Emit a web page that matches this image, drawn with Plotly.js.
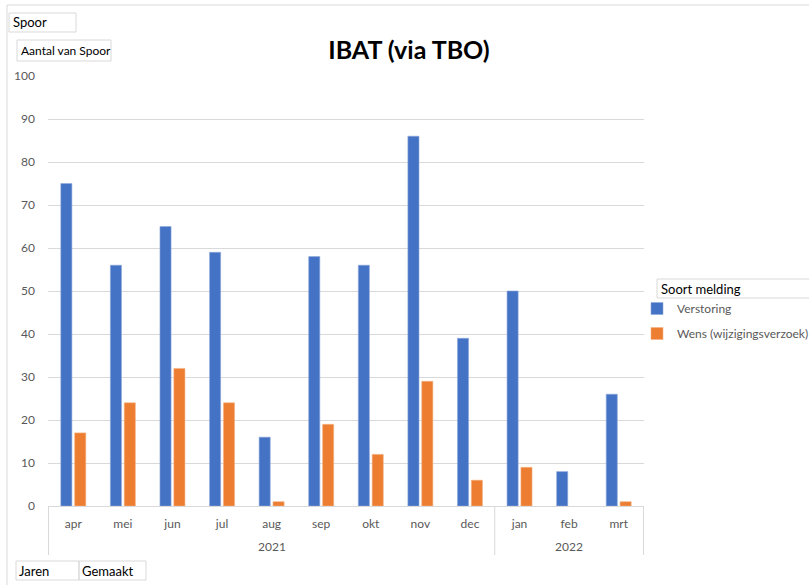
<!DOCTYPE html>
<html>
<head>
<meta charset="utf-8">
<script src="https://cdn.plot.ly/plotly-3.0.1.min.js"></script>
<style>html,body{margin:0;padding:0;background:#fff;}#chart{width:809px;height:585px;}</style>
</head>
<body>
<div id="chart"></div>
<script>
const years = ["2021","2021","2021","2021","2021","2021","2021","2021","2021","2022","2022","2022"];
const months = ["apr","mei","jun","jul","aug","sep","okt","nov","dec","jan","feb","mrt"];
const verstoring = [75,56,65,59,16,58,56,86,39,50,8,26];
const wens = [17,24,32,24,1,19,12,29,6,9,null,1];

const L = 48, R = 644, T = 76, B = 506, W = 809, H = 585;
const px = x => (x - L) / (R - L);
const py = y => (B - y) / (B - T);
const font = "Lato, 'Open Sans', sans-serif";
const grey = '#d9d9d9';

function box(x0, y0, x1, y1) {
  return {type:'rect', xref:'paper', yref:'paper', x0:px(x0), x1:px(x1), y0:py(y1), y1:py(y0),
    line:{color:grey, width:1}, fillcolor:'rgba(0,0,0,0)', layer:'above'};
}
function label(text, x, y, size) {
  return {text:text, xref:'paper', yref:'paper', x:px(x), y:py(y), xanchor:'left', yanchor:'middle',
    showarrow:false, font:{family:font, size:size, color:'#000'}};
}

// year groups derived from the years array
const groups = [];
years.forEach((yr, i) => {
  if (!groups.length || groups[groups.length-1].name !== yr) groups.push({name:yr, start:i, end:i});
  else groups[groups.length-1].end = i;
});
const dividerShapes = [];
const yearAnnotations = [];
groups.forEach((g, k) => {
  if (k === 0) dividerShapes.push({type:'line', xref:'x', yref:'paper', x0:g.start-0.5, x1:g.start-0.5, y0:0, y1:py(555), line:{color:grey, width:1}});
  dividerShapes.push({type:'line', xref:'x', yref:'paper', x0:g.end+0.5, x1:g.end+0.5, y0:0, y1:py(555), line:{color:grey, width:1}});
  yearAnnotations.push({text:g.name, xref:'x', yref:'paper', x:(g.start+g.end)/2, y:py(546), xanchor:'center', yanchor:'middle',
    showarrow:false, font:{family:font, size:12, color:'#595959'}});
});

const data = [
  {type:'bar', name:'Verstoring', x:months, y:verstoring, legendgroup:'a',
   marker:{color:'#4472c4', line:{color:'#8faadc', width:0.6}}},
  {type:'bar', name:'Wens (wijzigingsverzoek)', x:months, y:wens, legendgroup:'b',
   marker:{color:'#ed7d31', line:{color:'#f4b183', width:0.6}}}
];

const layout = {
  width:W, height:H,
  margin:{l:L, r:W-R, t:T, b:H-B, pad:0, autoexpand:false},
  paper_bgcolor:'#fff', plot_bgcolor:'#fff',
  font:{family:font, size:12, color:'#595959'},
  barmode:'group', bargap:0.44, bargroupgap:0.2,
  title:{text:'<b>IBAT (via TBO)</b>', font:{family:font, size:25, color:'#000'},
    xref:'container', yref:'container', x:409/W, y:1-50/H, xanchor:'center', yanchor:'middle'},
  xaxis:{type:'category', showgrid:false, showline:true, linecolor:grey, linewidth:1,
    ticks:'', ticklabelstandoff:7, automargin:false,
    tickfont:{family:font, size:12, color:'#595959'}},
  yaxis:{range:[0,100], dtick:10, showgrid:true, gridcolor:grey, gridwidth:1,
    zeroline:false, showline:false, ticks:'', ticklabelstandoff:12, automargin:false,
    tickfont:{family:font, size:12, color:'#595959'}},
  showlegend:true,
  legend:{x:px(637), y:py(294), xanchor:'left', yanchor:'top', bgcolor:'rgba(0,0,0,0)',
    traceorder:'grouped', tracegroupgap:6,
    font:{family:font, size:12, color:'#595959'}, itemwidth:30},
  shapes:[
    {type:'line', xref:'paper', yref:'paper', x0:px(7), x1:px(7), y0:py(5), y1:py(585), line:{color:grey, width:1}},
    {type:'line', xref:'paper', yref:'paper', x0:px(7), x1:px(809), y0:py(5), y1:py(5), line:{color:grey, width:1}},
    box(9,13,76,32), box(17,40,111,61), box(16,561,79,580), box(79,561,146,580), box(657,279,812,298)
  ].concat(dividerShapes),
  annotations:[
    label('Spoor', 11, 22.5, 13),
    label('Aantal van Spoor', 19, 50.5, 12),
    label('Jaren', 17, 570.5, 13),
    label('Gemaakt', 80, 570.5, 13),
    label('Soort melding', 659, 289, 13)
  ].concat(yearAnnotations)
};

Plotly.newPlot('chart', data, layout, {displayModeBar:false, responsive:false});
</script>
</body>
</html>
